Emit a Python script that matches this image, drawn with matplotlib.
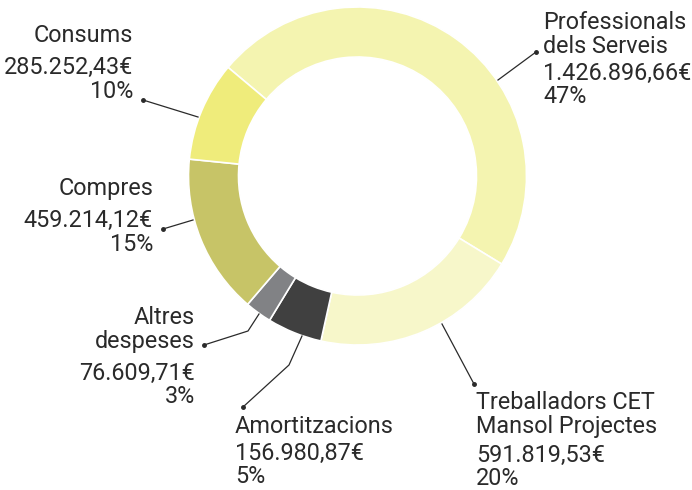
import matplotlib.pyplot as plt

# dades
categories = ["Professionals dels Serveis", "Treballadors CET Mansol Projectes",
              "Amortitzacions", "Altres despeses", "Compres", "Consums"]
values = [1426896.66, 591819.53, 156980.87, 76609.71, 459214.12, 285252.43]
pct_labels = ["47%", "20%", "5%", "3%", "15%", "10%"]
colors = ["#f4f4b0", "#f7f7ca", "#404040", "#818285", "#c7c467", "#efec7b"]

# nom de la categoria partit en línies, tal com surt a l'etiqueta
name_lines = [["Professionals", "dels Serveis"],
              ["Treballadors CET", "Mansol Projectes"],
              ["Amortitzacions"],
              ["Altres", "despeses"],
              ["Compres"],
              ["Consums"]]


def euro(v):
    s = f"{v:,.2f}"
    return s.replace(",", "X").replace(".", ",").replace("X", ".") + "€"


# posicions (en píxels, y cap avall)
label_pos = [
    # x, alineació, baselines
    (543, "left", [29, 53, 80, 103]),
    (476, "left", [409, 433, 462, 485]),
    (235, "left", [433, 460, 483]),
    (195, "right", [324, 348, 380, 403]),
    (153, "right", [195, 227, 251]),
    (133, "right", [42, 74, 98]),
]
leaders = [
    [(536, 52), (498, 80)],
    [(474, 384), (442, 324)],
    [(243, 407), (289, 365), (302, 336)],
    [(204, 345), (248, 331), (259, 314)],
    [(163, 229), (193, 220)],
    [(143, 100), (198, 117)],
]

plt.rcParams['font.family'] = ['Roboto', 'DejaVu Sans']
text_color = "#2a2a2a"

fig = plt.figure(figsize=(6.92, 4.9), dpi=100)
ax = fig.add_axes([0, 0, 1, 1])

ax.pie(values, colors=colors, center=(357.5, 176), radius=169,
       startangle=-140, counterclock=True,
       wedgeprops=dict(width=50, edgecolor="white", linewidth=1.2))

ax.set_xlim(0, 692)
ax.set_ylim(490, 0)
ax.axis("off")

for i in range(len(categories)):
    x, ha, bases = label_pos[i]
    lines = name_lines[i] + [euro(values[i]), pct_labels[i]]
    for txt, yb in zip(lines, bases):
        ax.text(x, yb, txt, ha=ha, va="baseline", fontsize=16.8,
                color=text_color)
    pts = leaders[i]
    ax.plot([p[0] for p in pts], [p[1] for p in pts], color=text_color, lw=0.9)
    ax.plot(pts[0][0], pts[0][1], "o", color=text_color, ms=2.5)

fig.savefig("out.png", dpi=100)
